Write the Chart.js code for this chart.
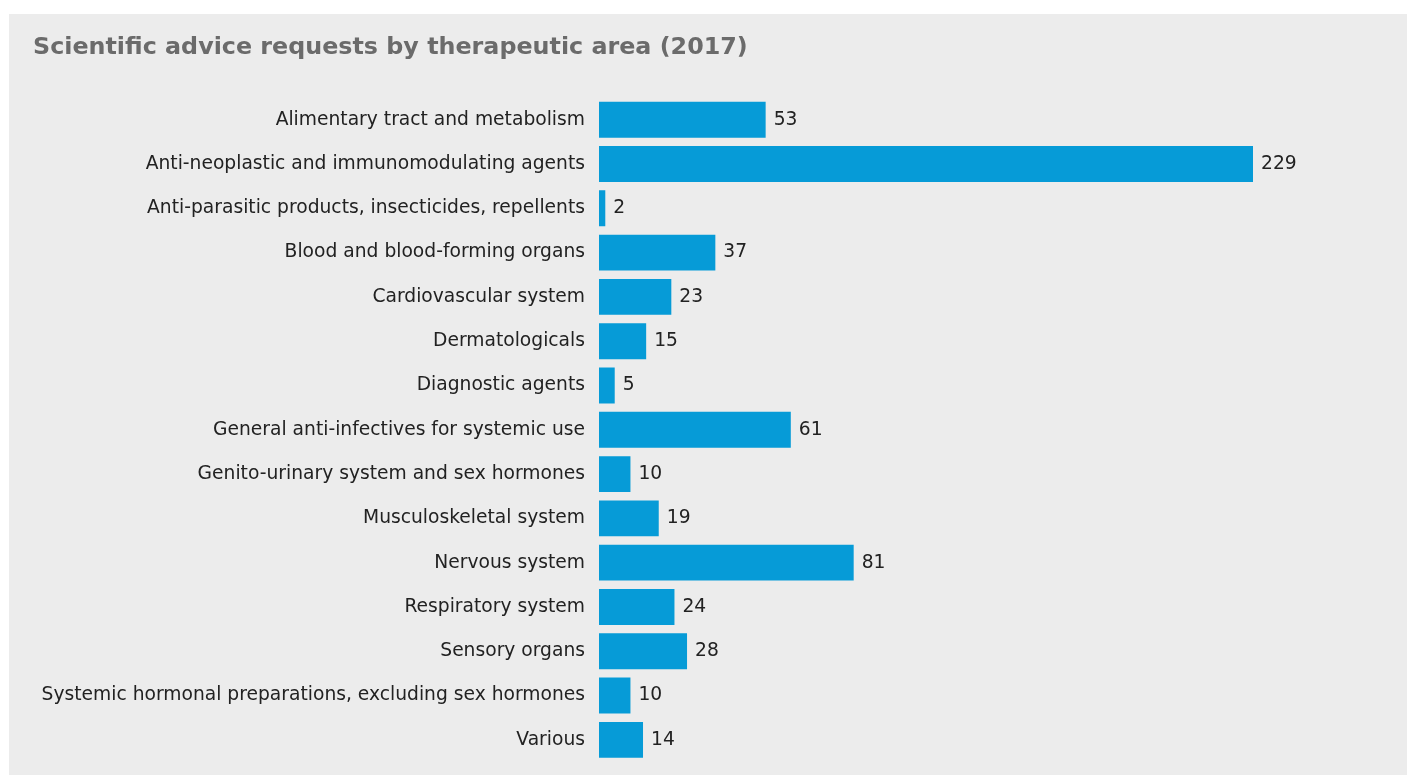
<!DOCTYPE html>
<html>
<head>
<meta charset="utf-8">
<script src="https://cdn.jsdelivr.net/npm/chart.js@4/dist/chart.umd.min.js"></script>
<style>
  body { margin: 0; background: #fff; }
  #panel { position: absolute; left: 9px; top: 14px; width: 1398px; height: 761px; background: #ececec; }
  #barChart { display: block; }
</style>
</head>
<body>
<div id="panel"><canvas id="barChart" width="1398" height="761"></canvas></div>
<script>
const categories = [
    'Alimentary tract and metabolism',
    'Anti-neoplastic and immunomodulating agents',
    'Anti-parasitic products, insecticides, repellents',
    'Blood and blood-forming organs',
    'Cardiovascular system',
    'Dermatologicals',
    'Diagnostic agents',
    'General anti-infectives for systemic use',
    'Genito-urinary system and sex hormones',
    'Musculoskeletal system',
    'Nervous system',
    'Respiratory system',
    'Sensory organs',
    'Systemic hormonal preparations, excluding sex hormones',
    'Various'
];
const requests = [53, 229, 2, 37, 23, 15, 5, 61, 10, 19, 81, 24, 28, 10, 14];
const titleText = 'Scientific advice requests by therapeutic area (2017)';

const fontFamily = '"DejaVu Sans", Verdana, sans-serif';

// value labels at the end of each bar (clipped bar -> label after the chart area edge)
const valueLabels = {
    id: 'valueLabels',
    afterDatasetsDraw (chart) {
        const ctx = chart.ctx;
        const meta = chart.getDatasetMeta(0);
        ctx.save();
        ctx.font = '18.7px ' + fontFamily;
        ctx.fillStyle = '#222';
        ctx.textBaseline = 'middle';
        ctx.textAlign = 'left';
        meta.data.forEach((bar, i) => {
            const x = Math.min(bar.x, chart.chartArea.right) + 8;
            ctx.fillText(requests[i], x, bar.y);
        });
        ctx.restore();
    }
};

const chart = new Chart(document.getElementById('barChart').getContext('2d'), {
    type: 'bar',
    data: {
        labels: categories,
        datasets: [{
            label: 'Requests',
            data: requests,
            backgroundColor: '#069bd7',
            borderWidth: 0,
            barPercentage: 0.81,
            categoryPercentage: 1
        }]
    },
    options: {
        indexAxis: 'y',
        responsive: false,
        animation: false,
        layout: { padding: { left: 24, right: 154, top: 0, bottom: 13 } },
        plugins: {
            legend: { display: false },
            tooltip: { enabled: false },
            title: {
                display: true,
                text: titleText,
                align: 'start',
                color: '#6b6b6b',
                font: { family: fontFamily, size: 23.8, weight: 'bold' },
                padding: { top: 20, bottom: 35 }
            }
        },
        scales: {
            x: {
                display: false,
                min: 0,
                max: 208
            },
            y: {
                afterFit (scale) {
                    scale.width = 599 - 9 - 24;
                    scale.paddingTop = 0;
                    scale.paddingBottom = 0;
                },
                grid: { display: false, drawTicks: false },
                border: { display: false },
                ticks: {
                    padding: 14,
                    color: '#222',
                    font: { family: fontFamily, size: 18.7 }
                }
            }
        }
    },
    plugins: [valueLabels]
});
</script>
</body>
</html>
